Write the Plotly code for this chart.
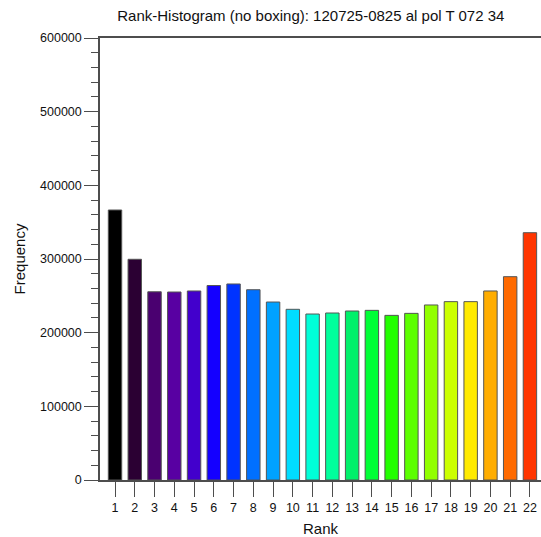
import plotly.graph_objects as go

# Rank histogram counts for ranks 1..22
ranks = list(range(1, 23))
frequency = [366500, 299600, 255500, 255200, 256600, 264000, 266100, 258300,
             241600, 231700, 225300, 226700, 229400, 230300, 223500, 226200,
             237600, 242100, 242100, 256600, 276000, 335700]
bar_colors = ["#000000", "#2b0033", "#4a0070", "#5800a2", "#4200cc", "#1400ff",
              "#0033ff", "#0070ff", "#00a2ff", "#00dcff", "#00ffd8", "#00ff9c",
              "#00f06a", "#00ff36", "#22ff00", "#5cff00", "#92ff00", "#ccff00",
              "#ffea00", "#ffad00", "#ff6a00", "#ff3500"]
y_ticks = [0, 100000, 200000, 300000, 400000, 500000, 600000]

font = "Liberation Sans, Arial, Helvetica, sans-serif"
axis_color = "#4d4d4d"

fig = go.Figure(
    go.Bar(
        x=ranks,
        y=frequency,
        width=0.68,
        marker=dict(color=bar_colors, line=dict(color="#555555", width=1)),
        hoverinfo="x+y",
    )
)

fig.update_layout(
    width=541,
    height=537,
    margin=dict(l=100, r=0, t=38, b=57),
    paper_bgcolor="white",
    plot_bgcolor="white",
    showlegend=False,
    font=dict(family=font, size=12.5, color="#111111"),
    title=dict(
        text="Rank-Histogram (no boxing): 120725-0825 al pol T 072 34",
        x=0.478,
        xref="paper",
        xanchor="center",
        y=1 - 16 / 537,
        yref="container",
        yanchor="middle",
        font=dict(family=font, size=15, color="#111111"),
    ),
)

fig.update_xaxes(
    range=[0.24, 22.56],
    tickmode="array",
    tickvals=ranks,
    ticktext=[str(r) for r in ranks],
    ticks="outside",
    ticklen=15,
    tickwidth=1,
    tickcolor=axis_color,
    showline=True,
    linecolor=axis_color,
    linewidth=1.5,
    mirror=True,
    showgrid=False,
    zeroline=False,
    tickfont=dict(size=12.5),
    title=dict(text="Rank", font=dict(size=15), standoff=11),
)

fig.update_yaxes(
    range=[0, 600000],
    tickmode="array",
    tickvals=y_ticks,
    ticktext=[str(v) for v in y_ticks],
    ticks="outside",
    ticklen=14,
    tickwidth=1,
    tickcolor=axis_color,
    minor=dict(dtick=20000, ticks="outside", ticklen=7, tickcolor=axis_color, showgrid=False),
    showline=True,
    linecolor=axis_color,
    linewidth=1.5,
    showgrid=False,
    zeroline=False,
    tickfont=dict(size=12.5),
    title=dict(text="Frequency", font=dict(size=15), standoff=11),
)

fig.write_html("out.html")
